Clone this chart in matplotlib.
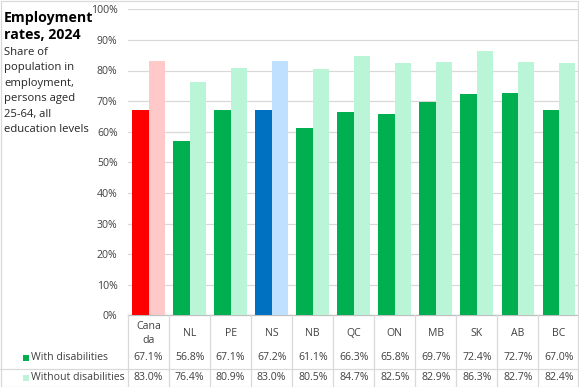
import matplotlib
matplotlib.use("Agg")
import matplotlib.pyplot as plt
from matplotlib.transforms import blended_transform_factory
from matplotlib.lines import Line2D
from matplotlib.patches import Rectangle

plt.rcParams['font.family'] = ['Open Sans', 'DejaVu Sans']

# ---- data ----
categories = ["Canada", "NL", "PE", "NS", "NB", "QC", "ON", "MB", "SK", "AB", "BC"]
tick_labels = ["Cana\nda", "NL", "PE", "NS", "NB", "QC", "ON", "MB", "SK", "AB", "BC"]
with_dis = [67.1, 56.8, 67.1, 67.2, 61.1, 66.3, 65.8, 69.7, 72.4, 72.7, 67.0]
without_dis = [83.0, 76.4, 80.9, 83.0, 80.5, 84.7, 82.5, 82.9, 86.3, 82.7, 82.4]
series_names = ["With disabilities", "Without disabilities"]
y_ticks = [0, 10, 20, 30, 40, 50, 60, 70, 80, 90, 100]

# ---- colours ----
green, mint = "#00B050", "#B9F5D6"
with_colors = [green] * len(categories)
without_colors = [mint] * len(categories)
with_colors[0], without_colors[0] = "#FF0000", "#FFC9C9"
with_colors[3], without_colors[3] = "#0070C0", "#BFE1FF"

W, H = 579, 387
fig = plt.figure(figsize=(W / 100, H / 100), dpi=100)

def fx(x):
    return x / W

def fy(y):
    return 1 - y / H

ax_left, ax_right = 128, 579.5
ax_top, ax_bottom = 9.3, 315.3
ax = fig.add_axes([fx(ax_left), fy(ax_bottom), (ax_right - ax_left) / W, (ax_bottom - ax_top) / H])

x = list(range(len(categories)))
bw = 0.4
ax.bar([i - bw / 2 for i in x], with_dis, width=bw, color=with_colors, zorder=3)
ax.bar([i + bw / 2 for i in x], without_dis, width=bw, color=without_colors, zorder=3)

fs = 7.6
txt_col = "#404040"
ax.set_xlim(-0.5, len(categories) - 0.5)
ax.set_ylim(0, 100)
ax.set_yticks(y_ticks)
ax.set_yticklabels([f"{v}%" for v in y_ticks], fontsize=fs, color=txt_col)
ax.tick_params(axis="y", length=0, pad=7.5)
ax.set_xticks([])
ax.grid(axis="y", color="#D9D9D9", lw=0.9, zorder=0)
for s in ["top", "right", "left"]:
    ax.spines[s].set_visible(False)
ax.spines["bottom"].set_color("#BFBFBF")
ax.spines["bottom"].set_linewidth(0.9)

# ---- data table ----
tr = blended_transform_factory(ax.transData, fig.transFigure)
line_col = "#D9D9D9"
for i in range(len(categories) + 1):
    xb = i - 0.5
    fig.add_artist(Line2D([xb, xb], [fy(315.3), fy(387)], transform=tr, color=line_col, lw=0.9))
fig.add_artist(Line2D([0, 1], [fy(368.5), fy(368.5)], transform=fig.transFigure, color=line_col, lw=0.9))

for i, lab in enumerate(tick_labels):
    fig.text(i, fy(333.5), lab, transform=tr, ha="center", va="center", fontsize=fs,
             color=txt_col, linespacing=1.3)
    fig.text(i, fy(357.5), f"{with_dis[i]:.1f}%", transform=tr, ha="center", va="center",
             fontsize=fs, color=txt_col)
    fig.text(i, fy(377.5), f"{without_dis[i]:.1f}%", transform=tr, ha="center", va="center",
             fontsize=fs, color=txt_col)

# legend keys in table
for yy, col, name in [(357.5, green, series_names[0]), (377.5, mint, series_names[1])]:
    fig.add_artist(Rectangle((fx(22.5), fy(yy + 3)), 6 / W, 6 / H, transform=fig.transFigure,
                             color=col, lw=0))
    fig.text(fx(31), fy(yy), name, ha="left", va="center", fontsize=fs, color=txt_col)

# ---- title ----
fig.text(fx(4), fy(26.5), "Employment\nrates, 2024", ha="left", va="center", fontsize=10.2,
         fontweight="bold", color="black", linespacing=1.36)
fig.text(fx(4), fy(91), "Share of\npopulation in\nemployment,\npersons aged\n25-64, all\neducation levels",
         ha="left", va="center", fontsize=8.1, color="#262626", linespacing=1.56)

# outer border
fig.add_artist(Rectangle((0.5 / W, 0.5 / H), (W - 1.5) / W, (H - 1.5) / H, transform=fig.transFigure,
                         fill=False, edgecolor="#D9D9D9", lw=0.9))

fig.savefig("out.png", dpi=100)
